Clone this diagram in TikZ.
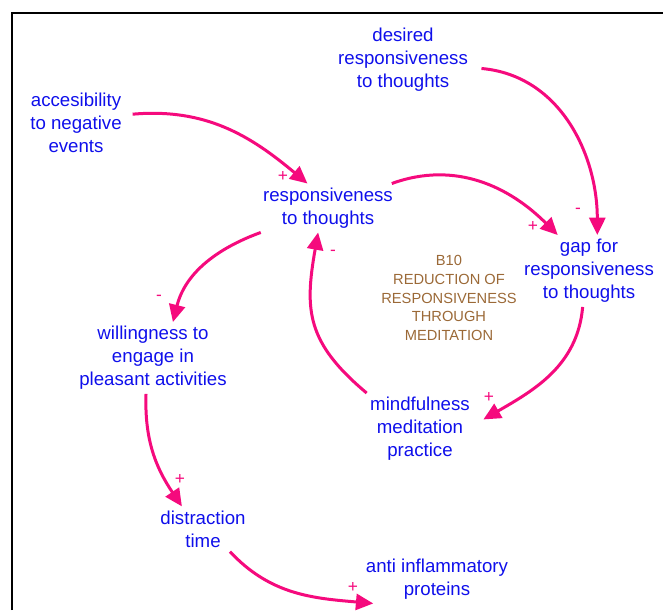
\documentclass[tikz,border=0pt]{standalone}
\usepackage{fontspec}
\setmainfont{Liberation Sans}
\usetikzlibrary{arrows.meta}
\definecolor{linkpink}{RGB}{245,10,125}
\definecolor{varblue}{RGB}{15,15,235}
\definecolor{loopbrown}{RGB}{155,105,55}
\tikzset{
  var/.style={text=varblue, align=center, inner sep=3pt, font=\fontsize{14}{17.25}\selectfont},
  link/.style={draw=linkpink, line width=2.25pt, -{Triangle[length=13pt,width=12pt]}},
  sign/.style={text=linkpink, inner sep=0pt, font=\fontsize{13}{15}\selectfont},
  looplabel/.style={text=loopbrown, align=center, font=\fontsize{11}{14}\selectfont},
}

\begin{document}
\begin{tikzpicture}[x=0.75pt,y=0.75pt]
        \useasboundingbox (0,0) rectangle (663,610);
        \draw[line width=1.5pt] (12,0) -- (12,597) -- (663,597);

        % variables
        \node[var] (des) at (403,550) {desired\\responsiveness\\to thoughts};
        \node[var] (acc) at (76,487) {accesibility\\to negative\\events};
        \node[var] (resp) at (328,402) {responsiveness\\to thoughts};
        \node[var] (gap) at (589,339) {gap for\\responsiveness\\to thoughts};
        \node[var] (will) at (153,252) {willingness to\\engage in\\pleasant activities};
        \node[var] (mind) at (420,181) {mindfulness\\meditation\\practice};
        \node[var] (dist) at (203,81) {distraction\\time};
        \node[var] (anti) at (437,31) {anti inflammatory\\proteins};
        \node[looplabel] (b10) at (449,312) {B10\\REDUCTION OF\\RESPONSIVENESS\\THROUGH\\MEDITATION};

        % links
        \draw[link] ([xshift=5]acc.10) to[out=5,in=140] (resp.130);
        \draw[link] ([xshift=7]des.-7) to[out=-5,in=90] (gap.77);
        \draw[link] (resp.21) to[out=20,in=135] (gap.131);
        \draw[link] (gap.-100) to[out=-95,in=30] ([xshift=7]mind.10);
        \draw[link] (mind.146) to[out=140,in=-100,looseness=1.2] (resp.-112);
        \draw[link] (resp.-160) to[out=-160,in=76] (will.61);
        \draw[link] (will.-101) to[out=-92,in=124] (dist.133);
        \draw[link] (dist.-40) to[out=-47,in=175] (anti.-159);

        % polarities
        \node[sign] (p1) at (283,433) {+};
        \node[sign] (p2) at (533,383) {+};
        \node[sign] (p3) at (578,399) {-};
        \node[sign] (p4) at (333,357) {-};
        \node[sign] (p5) at (489,212) {+};
        \node[sign] (p6) at (159,312) {-};
        \node[sign] (p7) at (180,131) {+};
        \node[sign] (p8) at (353,23) {+};
\end{tikzpicture}
\end{document}
